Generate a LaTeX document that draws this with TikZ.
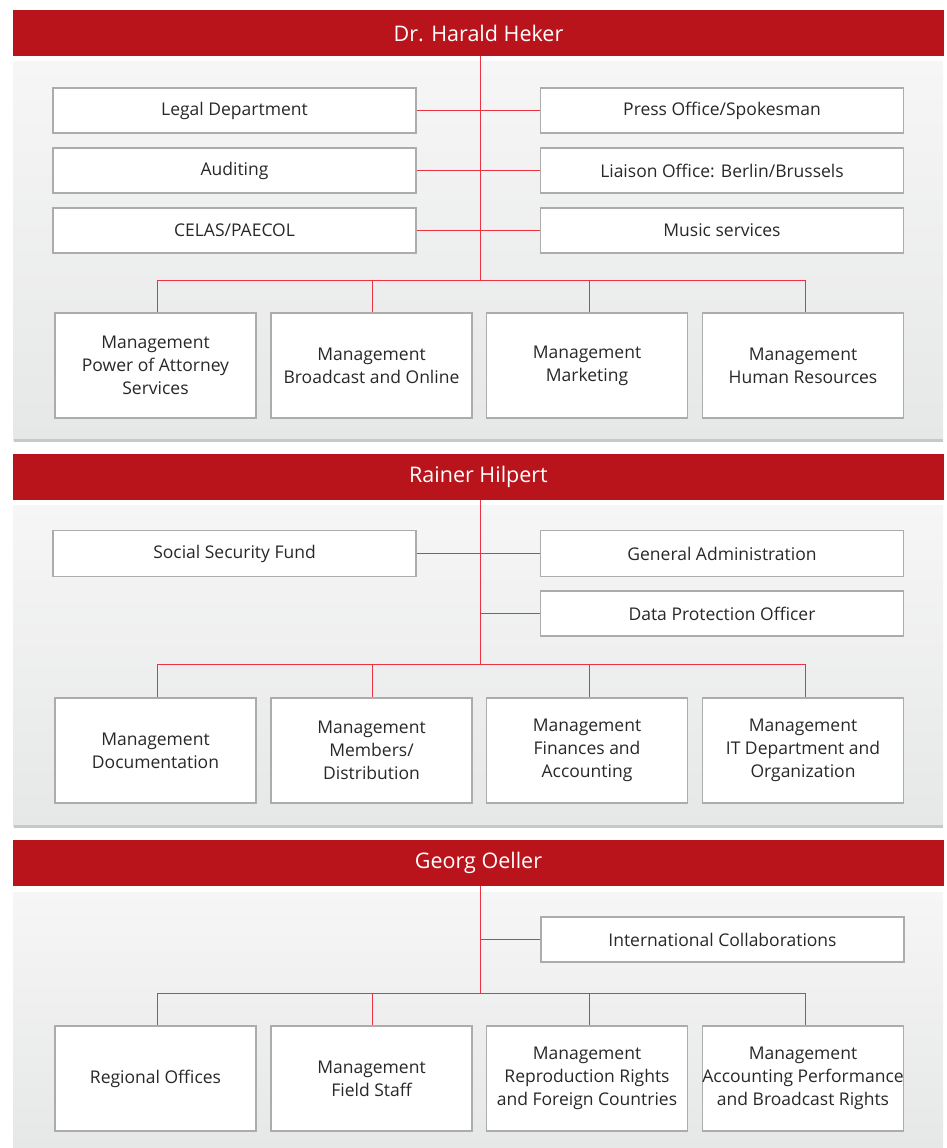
\documentclass[tikz,border=0pt]{standalone}
\usepackage{fontspec}
\setmainfont{Open Sans}
\definecolor{hdrred}{RGB}{185,20,28}
\definecolor{linered}{RGB}{236,50,64}
\definecolor{boxgray}{RGB}{172,172,172}
\definecolor{txtgray}{RGB}{40,40,40}
\definecolor{paneltop}{RGB}{246,246,246}
\definecolor{panelbot}{RGB}{230,231,231}
\definecolor{panelline}{RGB}{200,200,200}
\tikzset{
  hdr/.style={fill=hdrred, draw=none, text=white, font=\fontsize{21.5}{25}\selectfont, minimum width=931pt, minimum height=46pt, inner sep=0pt},
  wbox/.style={draw=boxgray, line width=1.3pt, fill=white, text=txtgray, font=\fontsize{17.5}{22.8}\selectfont, align=center, inner sep=0pt},
  sidebox/.style={wbox, minimum width=363pt, minimum height=45pt},
  lowbox/.style={wbox, minimum width=201pt, minimum height=105pt},
  conn/.style={draw=linered, line width=1.5pt},
  panel/.style={top color=paneltop, bottom color=panelbot, draw=none}
}
\begin{document}
\begin{tikzpicture}[x=1pt,y=-1pt]
\useasboundingbox (0,0) rectangle (946,1148);
% ===== Section 1 =====
\shade[panel] (13,62) rectangle (943,440);
\fill[panelline] (14,439) rectangle (943,441.5);
\node[hdr] (h1) at (478.5,33) {Dr. Harald Heker};
\node[sidebox] (legal) at (234.5,110.5) {Legal Department};
\node[sidebox] (audit) at (234.5,170.5) {Auditing};
\node[sidebox] (celas) at (234.5,230.5) {CELAS/PAECOL};
\node[sidebox] (press) at (722,110.5) {Press Office/Spokesman};
\node[sidebox] (liaison) at (722,170.5) {Liaison Office: Berlin/Brussels};
\node[sidebox] (music) at (722,230.5) {Music services};
\coordinate (t1) at (480.5,56);
\coordinate (b1) at (480.5,280.5);
\node[lowbox] (m11) at (155.5,365.5) {Management\\Power of Attorney\\Services};
\node[lowbox] (m12) at (371.5,365.5) {Management\\Broadcast and Online};
\node[lowbox] (m13) at (587,365.5) {Management\\Marketing};
\node[lowbox] (m14) at (803,365.5) {Management\\Human Resources};
\coordinate (d11) at (157.5,280.5);
\coordinate (d12) at (372.5,280.5);
\coordinate (d13) at (589.5,280.5);
\coordinate (d14) at (805.5,280.5);
\draw[conn] (t1) -- (b1);
\draw[conn] (legal.east) -- (press.west);
\draw[conn] (audit.east) -- (liaison.west);
\draw[conn] (celas.east) -- (music.west);
\draw[conn] (d11 |- m11.north) -- (d11) -- (d14) -- (d14 |- m14.north);
\draw[conn] (d12) -- (d12 |- m12.north);
\draw[conn] (d13) -- (d13 |- m13.north);
% ===== Section 2 =====
\shade[panel] (13,505) rectangle (943,826);
\fill[panelline] (14,825) rectangle (943,827.5);
\node[hdr] (h2) at (478.5,477) {Rainer Hilpert};
\node[sidebox, minimum height=46pt] (ssf) at (234.5,553.5) {Social Security Fund};
\node[sidebox, minimum height=46pt] (gadm) at (722,553.5) {General Administration};
\node[sidebox] (dpo) at (722,613.5) {Data Protection Officer};
\coordinate (t2) at (480.5,500);
\coordinate (b2) at (480.5,664.5);
\node[lowbox] (m21) at (155.5,750.5) {Management\\Documentation};
\node[lowbox] (m22) at (371.5,750.5) {Management\\Members/\\Distribution};
\node[lowbox] (m23) at (587,750.5) {Management\\Finances and\\Accounting};
\node[lowbox] (m24) at (803,750.5) {Management\\IT Department and\\Organization};
\coordinate (d21) at (157.5,664.5);
\coordinate (d22) at (372.5,664.5);
\coordinate (d23) at (589.5,664.5);
\coordinate (d24) at (805.5,664.5);
\draw[conn] (t2) -- (b2);
\draw[conn] (ssf.east) -- (gadm.west);
\draw[conn] (dpo.west) -- (dpo.west -| t2);
\draw[conn] (d21 |- m21.north) -- (d21) -- (d24) -- (d24 |- m24.north);
\draw[conn] (d22) -- (d22 |- m22.north);
\draw[conn] (d23) -- (d23 |- m23.north);
% ===== Section 3 =====
\shade[panel] (13,892) rectangle (943,1148);
\node[hdr] (h3) at (478.5,863) {Georg Oeller};
\node[sidebox] (intl) at (722.5,939.5) {International Collaborations};
\coordinate (t3) at (480.5,886);
\coordinate (b3) at (480.5,993.5);
\node[lowbox] (m31) at (155.5,1078.5) {Regional Offices};
\node[lowbox] (m32) at (371.5,1078.5) {Management\\Field Staff};
\node[lowbox] (m33) at (587,1078.5) {Management\\Reproduction Rights\\and Foreign Countries};
\node[lowbox] (m34) at (803,1078.5) {Management\\Accounting Performance\\and Broadcast Rights};
\coordinate (d31) at (157.5,993.5);
\coordinate (d32) at (372.5,993.5);
\coordinate (d33) at (589.5,993.5);
\coordinate (d34) at (805.5,993.5);
\draw[conn] (t3) -- (b3);
\draw[conn] (intl.west) -- (intl.west -| t3);
\draw[conn] (d31 |- m31.north) -- (d31) -- (d34) -- (d34 |- m34.north);
\draw[conn] (d32) -- (d32 |- m32.north);
\draw[conn] (d33) -- (d33 |- m33.north);
\end{tikzpicture}
\end{document}
